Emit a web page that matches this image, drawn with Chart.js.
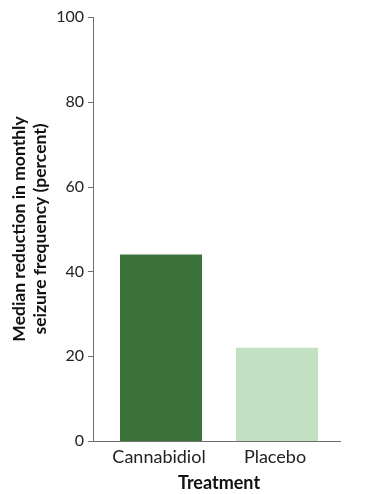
<!DOCTYPE html>
<html><head><meta charset="utf-8">
<script src="https://cdn.jsdelivr.net/npm/chart.js@4"></script>
<style>html,body{margin:0;padding:0;background:#fff}canvas{display:block}</style>
</head><body>
<canvas id="c" width="370" height="494"></canvas>
<script>
const categories = ["Cannabidiol", "Placebo"];
const values = [44, 22];
const barColors = ["#3b733b", "#c2e1c2"];
const yTicks = [0, 20, 40, 60, 80, 100];
const yTitle = ["Median reduction in monthly", "seizure frequency (percent)"];
const xTitle = "Treatment";

const AXIS_X = 93, AXIS_RIGHT = 341;
const axisPlugin = {
  id: 'axes',
  afterDraw(chart) {
    const ctx = chart.ctx, y = chart.scales.y, a = chart.chartArea;
    ctx.save();
    ctx.strokeStyle = '#6e6e6e';
    ctx.lineWidth = 1;
    ctx.beginPath();
    ctx.moveTo(AXIS_X + 0.5, a.top);
    ctx.lineTo(AXIS_X + 0.5, a.bottom + 0.5);
    ctx.lineTo(AXIS_RIGHT, a.bottom + 0.5);
    yTicks.forEach(v => {
      const p = Math.round(y.getPixelForValue(v)) + 0.5;
      ctx.moveTo(AXIS_X - 5, p);
      ctx.lineTo(AXIS_X + 0.5, p);
    });
    ctx.stroke();
    ctx.restore();
  }
};

new Chart(document.getElementById('c'), {
  type: 'bar',
  data: {
    labels: categories,
    datasets: [{ data: values, backgroundColor: barColors, borderWidth: 0,
      barPercentage: 0.707, categoryPercentage: 1 }]
  },
  options: {
    responsive: false, animation: false, devicePixelRatio: 1,
    layout: { padding: { left: 0, right: 35, top: 0, bottom: 0 } },
    plugins: { legend: { display: false }, tooltip: { enabled: false } },
    scales: {
      y: {
        min: 0, max: 100,
        afterBuildTicks: s => { s.ticks = yTicks.map(v => ({ value: v })); },
        ticks: { font: { family: 'Lato', size: 16, lineHeight: 1 }, color: '#222', padding: 19 },
        grid: { display: false, drawTicks: false },
        border: { display: false },
        title: { display: true, text: yTitle, font: { family: 'Lato', size: 17.5, weight: 'bold' }, color: '#111', padding: { top: 9, bottom: 0 } },
        afterFit: s => { s.width = 103; s.paddingTop = 17; s.paddingBottom = 0; }
      },
      x: {
        ticks: { font: { family: 'Lato', size: 18 }, color: '#222', padding: 5, labelOffset: -2 },
        grid: { display: false, drawTicks: false },
        border: { display: false },
        title: { display: true, text: xTitle, font: { family: 'Lato', size: 18, weight: 'bold' }, color: '#111', padding: { top: 2, bottom: 0 } },
        afterFit: s => { s.height = 53; }
      }
    }
  },
  plugins: [axisPlugin]
});
</script>
</body></html>
